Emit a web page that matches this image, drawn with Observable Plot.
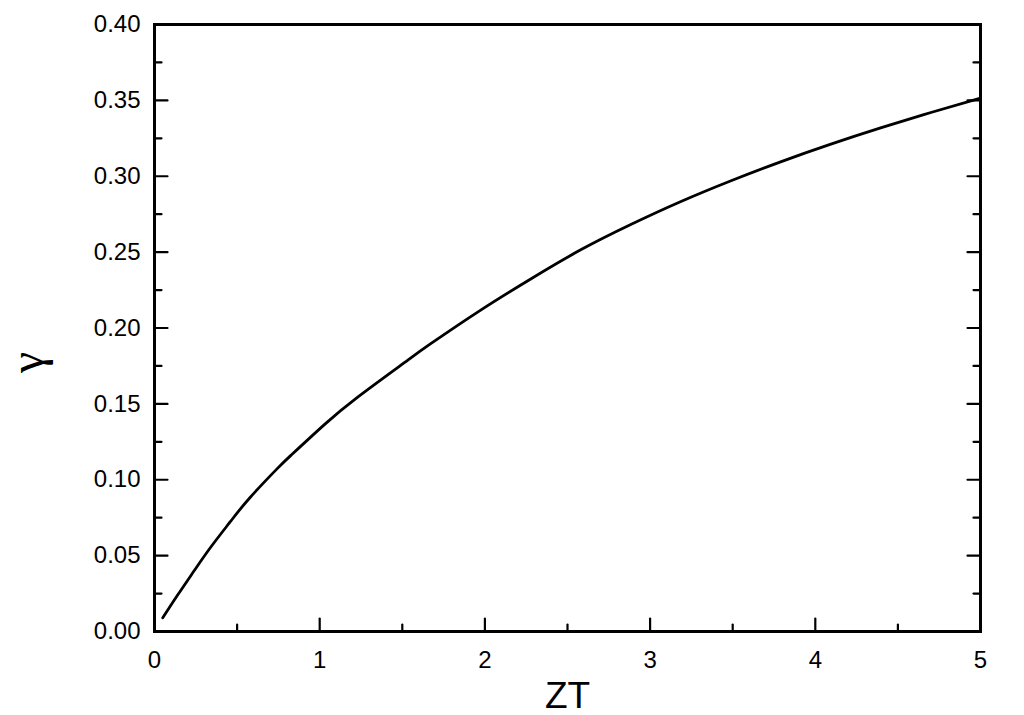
<!DOCTYPE html>
<html>
<head>
<meta charset="utf-8">
<script src="https://cdn.jsdelivr.net/npm/d3@7"></script>
<script src="https://cdn.jsdelivr.net/npm/@observablehq/plot@0.6"></script>
<style>
  html, body { margin: 0; padding: 0; background: white; }
</style>
</head>
<body>
<div id="chart"></div>
<script>
const zt = [0.05, 0.14, 0.24, 0.34, 0.46, 0.58, 0.74, 0.83, 1.03, 1.23, 1.51, 1.67, 1.97, 2.28, 2.58, 2.88, 3.18, 3.49, 3.79, 4.09, 4.40, 4.70, 5.0];
const gamma = [0.009, 0.024, 0.040, 0.0555, 0.0725, 0.0885, 0.107, 0.1165, 0.1365, 0.1545, 0.177, 0.1895, 0.2115, 0.2325, 0.2515, 0.268, 0.283, 0.297, 0.3095, 0.321, 0.332, 0.342, 0.3515];

const xMajor = [0, 1, 2, 3, 4, 5];
const xMinor = [0.5, 1.5, 2.5, 3.5, 4.5];
const yMajor = [0, 0.05, 0.10, 0.15, 0.20, 0.25, 0.30, 0.35, 0.40];
const yMinor = [0.025, 0.075, 0.125, 0.175, 0.225, 0.275, 0.325, 0.375];
const xLabel = "ZT";
const yLabel = "γ";

const data = zt.map((x, i) => ({zt: x, gamma: gamma[i]}));
const font = "'Liberation Sans', Arial, sans-serif";
const tickShape = {draw(context, l) { context.moveTo(0, 0); context.lineTo(0, -l); }};
const tickStyle = {anchor: "start", shape: tickShape, stroke: "black", strokeWidth: 2.2};

const chart = Plot.plot({
  width: 1024,
  height: 715,
  marginLeft: 154,
  marginRight: 44,
  marginTop: 24,
  marginBottom: 84,
  style: {fontFamily: font, fontSize: "24px", background: "white", color: "black"},
  x: {domain: [0, 5]},
  y: {domain: [0, 0.4]},
  marks: [
    Plot.axisX(xMajor, {anchor: "bottom", tickSize: 0, tickPadding: 19, fontSize: 24, fill: "black", tickFormat: d => String(d), label: null}),
    Plot.axisY(yMajor, {anchor: "left", tickSize: 0, tickPadding: 14, fontSize: 24, fill: "black", tickFormat: d3.format(".2f"), label: null}),
    Plot.vector(xMajor, {x: d => d, frameAnchor: "bottom", length: 13, rotate: 0, ...tickStyle}),
    Plot.vector(xMinor, {x: d => d, frameAnchor: "bottom", length: 7, rotate: 0, ...tickStyle}),
    Plot.vector(yMajor, {y: d => d, frameAnchor: "left", length: 13, rotate: 90, ...tickStyle}),
    Plot.vector(yMinor, {y: d => d, frameAnchor: "left", length: 7, rotate: 90, ...tickStyle}),
    Plot.vector(yMajor, {y: d => d, frameAnchor: "right", length: 13, rotate: -90, ...tickStyle}),
    Plot.vector(yMinor, {y: d => d, frameAnchor: "right", length: 7, rotate: -90, ...tickStyle}),
    Plot.frame({stroke: "black", strokeWidth: 3}),
    Plot.line(data, {x: "zt", y: "gamma", stroke: "black", strokeWidth: 2.8, curve: "natural"}),
    Plot.text([xLabel], {frameAnchor: "bottom", lineAnchor: "bottom", dy: 76, fontSize: 37, fill: "black"}),
    Plot.text([yLabel], {frameAnchor: "left", dx: -127, dy: 45, rotate: -90, fontSize: 48, fontFamily: "'Liberation Serif', 'DejaVu Serif', serif", fill: "black"})
  ]
});
document.getElementById("chart").appendChild(chart);
</script>
</body>
</html>
